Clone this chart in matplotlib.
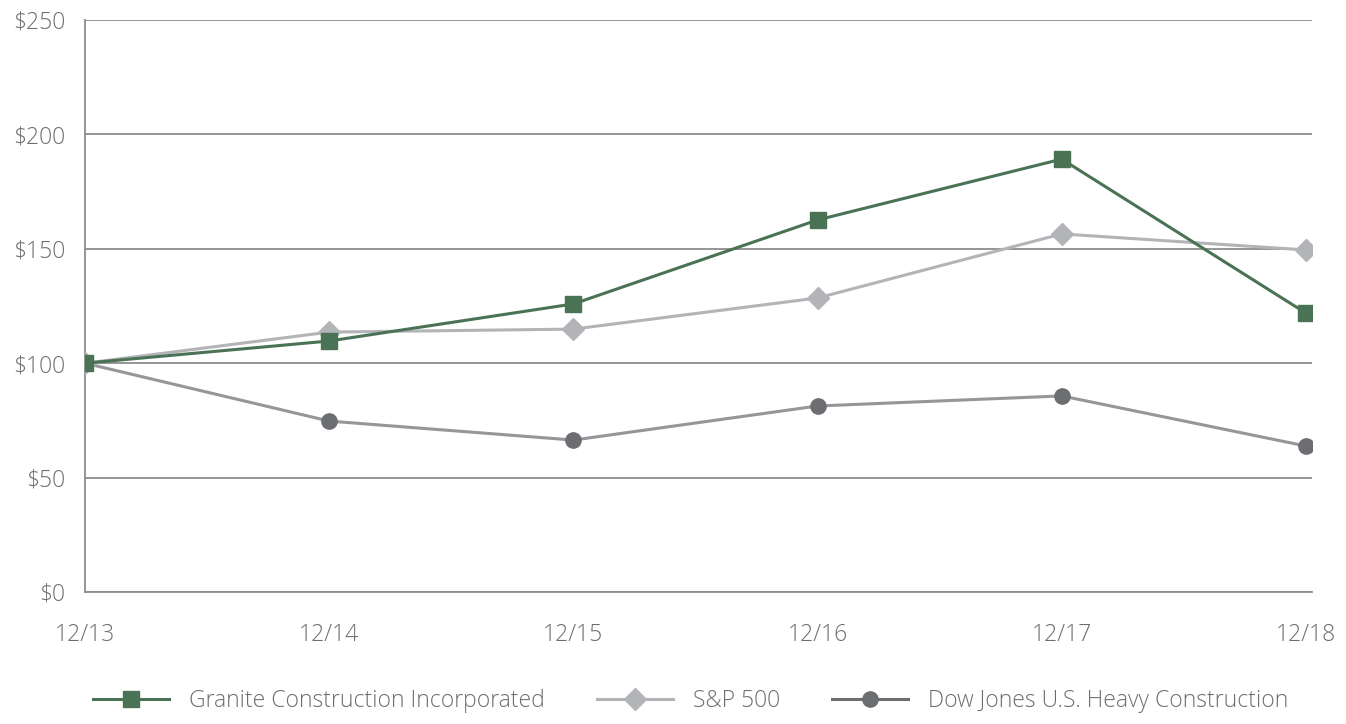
import matplotlib.pyplot as plt
from matplotlib.lines import Line2D

plt.rcParams['font.family'] = ['Open Sans', 'DejaVu Sans']
plt.rcParams['font.weight'] = 'light'

years = ['12/13', '12/14', '12/15', '12/16', '12/17', '12/18']
granite = [100, 109.7, 125.9, 162.6, 189.2, 121.9]
sp500 = [100, 113.6, 114.9, 128.5, 156.5, 149.5]
dow_jones = [100, 74.7, 66.4, 81.3, 85.7, 63.8]
y_ticks = [0, 50, 100, 150, 200, 250]

GREEN = '#4a7356'
LIGHT = '#b3b4b7'
DARK = '#6d6e71'
DJ_LINE = '#959699'
GRID = '#8c8c8c'
TEXT = '#6d6e71'

fig = plt.figure(figsize=(13.46, 7.24), dpi=100)
ax = fig.add_axes([85 / 1346, 1 - 592 / 724, (1312 - 85) / 1346, (592 - 20) / 724])

x = list(range(len(years)))
ax.plot(x, dow_jones, color=DJ_LINE, lw=2.2, marker='o', ms=11,
        mfc=DARK, mec=DARK, zorder=3)
ax.plot(x, sp500, color=LIGHT, lw=2.2, marker='D', ms=11,
        mfc=LIGHT, mec=LIGHT, zorder=4)
ax.plot(x, granite, color=GREEN, lw=2.2, marker='s', ms=11,
        mfc=GREEN, mec=GREEN, zorder=5)

ax.set_xlim(0, 5.025)
ax.set_ylim(0, 250)
ax.set_xticks(x)
ax.set_xticklabels(years)
ax.set_yticks(y_ticks)
ax.set_yticklabels(['$%d' % v for v in y_ticks])
ax.tick_params(length=0, labelsize=16.5, labelcolor=TEXT)
ax.tick_params(axis='x', pad=22)
ax.tick_params(axis='y', pad=14)
ax.yaxis.grid(True, color=GRID, lw=1.3)
ax.set_axisbelow(True)
for s in ['top', 'right']:
    ax.spines[s].set_visible(False)
for s in ['left', 'bottom']:
    ax.spines[s].set_color(GRID)
    ax.spines[s].set_linewidth(1.3)

handles = [
    Line2D([], [], color=GREEN, lw=2.2, marker='s', ms=11, mfc=GREEN, mec=GREEN),
    Line2D([], [], color=LIGHT, lw=2.2, marker='D', ms=11, mfc=LIGHT, mec=LIGHT),
    Line2D([], [], color=DARK, lw=2.2, marker='o', ms=11, mfc=DARK, mec=DARK),
]
labels = ['Granite Construction Incorporated', 'S&P 500',
          'Dow Jones U.S. Heavy Construction']
left_edges = [93, 597, 832]
for h, lab, xl in zip(handles, labels, left_edges):
    leg = fig.legend([h], [lab], loc='center left',
                     bbox_to_anchor=(xl / 1346, 1 - 701 / 724),
                     frameon=False, fontsize=16.5, handlelength=3.3,
                     handletextpad=0.9, borderpad=0, borderaxespad=0)
    for t in leg.get_texts():
        t.set_color(TEXT)

fig.savefig('out.png', dpi=100)
